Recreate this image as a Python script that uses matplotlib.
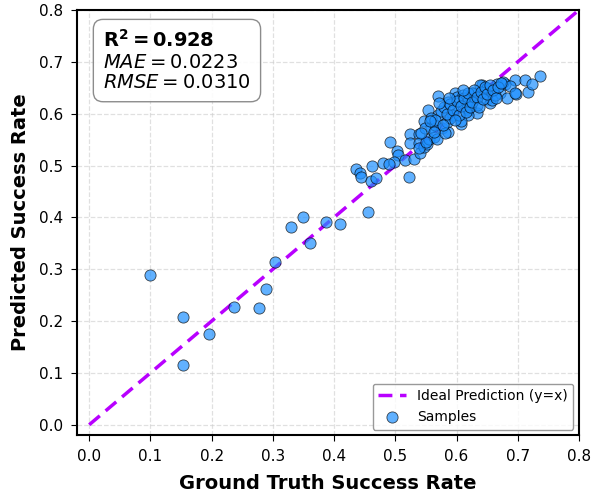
import matplotlib
matplotlib.use("Agg")
import matplotlib.pyplot as plt
import numpy as np

ground_truth = [
    0.099, 0.154, 0.154, 0.195, 0.237, 0.278, 0.288, 0.304, 0.330, 0.350,
    0.360, 0.386, 0.410, 0.456,
    0.4365, 0.443, 0.4447, 0.4615, 0.4604, 0.469, 0.480, 0.4915, 0.502, 0.504,
    0.498, 0.490, 0.516, 0.522, 0.530, 0.5237, 0.5237, 0.539, 0.539, 0.540,
    0.5466, 0.552, 0.555, 0.5635,
    0.539, 0.5466, 0.550, 0.568, 0.559, 0.570, 0.5756, 0.5854, 0.5864, 0.592,
    0.597, 0.601, 0.603, 0.611, 0.619, 0.622, 0.633, 0.627, 0.641, 0.644,
    0.650, 0.6547, 0.652, 0.6656, 0.671, 0.679, 0.682, 0.6956, 0.697, 0.712,
    0.716, 0.723, 0.7365, 0.608, 0.584,
    0.5537, 0.5646, 0.581, 0.5946, 0.589, 0.611, 0.6165, 0.619, 0.6247, 0.630,
    0.633, 0.638, 0.649, 0.6575, 0.663, 0.6764, 0.687, 0.6956, 0.619, 0.608,
    0.570, 0.559,
    0.575, 0.580, 0.585, 0.590, 0.595, 0.600, 0.604, 0.607, 0.612, 0.615,
    0.618, 0.622, 0.626, 0.629, 0.633, 0.636, 0.640, 0.643, 0.646, 0.650,
    0.655, 0.660, 0.664, 0.668, 0.672, 0.565, 0.572, 0.588, 0.597, 0.610,
    0.548, 0.556, 0.542, 0.563, 0.578,
]
predicted = [
    0.288, 0.208, 0.116, 0.175, 0.228, 0.226, 0.262, 0.313, 0.382, 0.401,
    0.351, 0.392, 0.387, 0.410,
    0.493, 0.486, 0.478, 0.500, 0.471, 0.475, 0.505, 0.545, 0.5285, 0.520,
    0.506, 0.502, 0.510, 0.477, 0.512, 0.561, 0.543, 0.560, 0.543, 0.5235,
    0.535, 0.5414, 0.5505, 0.5555,
    0.533, 0.586, 0.546, 0.552, 0.575, 0.634, 0.572, 0.565, 0.623, 0.597,
    0.639, 0.6326, 0.613, 0.620, 0.607, 0.626, 0.6006, 0.639, 0.655, 0.639,
    0.6276, 0.621, 0.6455, 0.658, 0.639, 0.658, 0.6295, 0.665, 0.638, 0.665,
    0.642, 0.657, 0.6725, 0.581, 0.584,
    0.6075, 0.5786, 0.5626, 0.598, 0.5915, 0.6364, 0.611, 0.6237, 0.640, 0.630,
    0.617, 0.6557, 0.649, 0.627, 0.6364, 0.662, 0.6526, 0.640, 0.598, 0.585,
    0.598, 0.5915,
    0.605, 0.612, 0.600, 0.618, 0.608, 0.625, 0.598, 0.615, 0.630, 0.603,
    0.640, 0.612, 0.622, 0.645, 0.633, 0.612, 0.642, 0.628, 0.652, 0.637,
    0.655, 0.645, 0.630, 0.652, 0.660, 0.588, 0.620, 0.630, 0.588, 0.645,
    0.572, 0.585, 0.563, 0.565, 0.578,
]

ideal_line = [0.0, 0.8]
r2_text = "0.928"
mae_text = "0.0223"
rmse_text = "0.0310"
x_ticks = [0.0, 0.1, 0.2, 0.3, 0.4, 0.5, 0.6, 0.7, 0.8]
y_ticks = [0.0, 0.1, 0.2, 0.3, 0.4, 0.5, 0.6, 0.7, 0.8]

fig = plt.figure(figsize=(5.92, 4.99), dpi=100)
ax = fig.add_axes([0.130, 0.128, 0.848, 0.852])

ax.grid(True, linestyle='--', color='#cccccc', alpha=0.6, linewidth=0.9)
ax.set_axisbelow(True)

ax.plot(ideal_line, ideal_line, linestyle='--', color='#B800FF', linewidth=2.5,
        label='Ideal Prediction (y=x)', zorder=2, dashes=(4, 2.2))
ax.scatter(ground_truth, predicted, s=65, c='#1E90FF', alpha=0.7,
           edgecolors='black', linewidths=0.6, label='Samples', zorder=3)

ax.set_xlim(-0.02, 0.8)
ax.set_ylim(-0.02, 0.8)
ax.set_xticks(x_ticks)
ax.set_yticks(y_ticks)
ax.tick_params(labelsize=11, length=4, pad=6)
for sp in ax.spines.values():
    sp.set_linewidth(1.5)
    sp.set_color('black')

ax.set_xlabel('Ground Truth Success Rate', fontsize=14, fontweight='bold', labelpad=7)
ax.set_ylabel('Predicted Success Rate', fontsize=14, fontweight='bold', labelpad=6)

txt = (r"$\mathbf{R^2 = " + r2_text + r"}$" + "\n" +
       r"$MAE = " + mae_text + r"$" + "\n" +
       r"$RMSE = " + rmse_text + r"$")
ax.text(0.052, 0.955, txt, transform=ax.transAxes, fontsize=14, va='top', ha='left',
        linespacing=1.1,
        bbox=dict(boxstyle='round,pad=0.5', facecolor='white', edgecolor='gray', alpha=0.9))

leg = ax.legend(loc='lower right', fontsize=10, frameon=True, edgecolor='gray',
                borderaxespad=0.4)

fig.savefig('out.png', dpi=100)
